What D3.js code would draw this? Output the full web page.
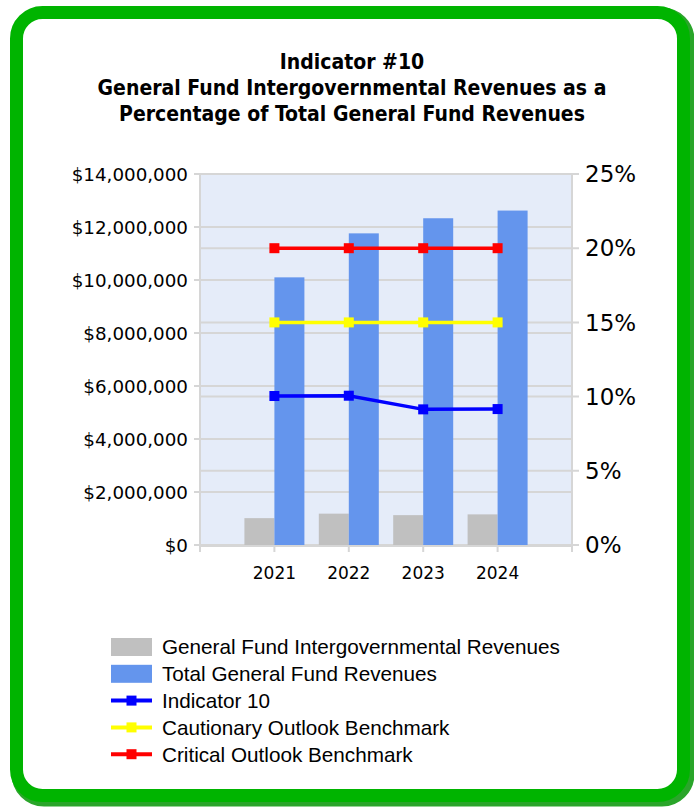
<!DOCTYPE html>
<html>
<head>
<meta charset="utf-8">
<script src="https://cdn.jsdelivr.net/npm/d3@7"></script>
<style>
  body { margin: 0; background: #fff; }
</style>
</head>
<body>
<div id="chart"></div>
<script>
// data
var years = ["2021", "2022", "2023", "2024"];
var intergovRevenues = [1014000, 1183000, 1127000, 1156000];
var totalRevenues = [10100000, 11760000, 12330000, 12620000];
var indicator10 = [10.04, 10.06, 9.14, 9.16];
var cautionary = [15, 15, 15, 15];
var critical = [20, 20, 20, 20];
var leftTicks = [0, 2000000, 4000000, 6000000, 8000000, 10000000, 12000000, 14000000];
var rightTicks = [0, 5, 10, 15, 20, 25];

var width = 694, height = 807;
var plot = { left: 200, right: 572, top: 174, bottom: 545 };

var svg = d3.select("#chart").append("svg")
  .attr("width", width)
  .attr("height", height);

// green rounded frame
svg.append("rect")
  .attr("x", 18).attr("y", 14).attr("width", 670).attr("height", 786)
  .attr("rx", 26).attr("ry", 26)
  .attr("fill", "none").attr("stroke", "#2aa52a").attr("stroke-width", 13);
svg.append("rect")
  .attr("x", 16.5).attr("y", 12.5).attr("width", 667).attr("height", 783)
  .attr("rx", 26).attr("ry", 26)
  .attr("fill", "#fff").attr("stroke", "#00b400").attr("stroke-width", 13);

// title
var title = svg.append("text")
  .attr("text-anchor", "middle")
  .attr("font-family", "DejaVu Sans Condensed, DejaVu Sans")
  .attr("font-weight", "bold")
  .attr("font-size", 21)
  .attr("fill", "#000");
["Indicator #10", "General Fund Intergovernmental Revenues as a", "Percentage of Total General Fund Revenues"]
  .forEach(function(t, i) {
    title.append("tspan").attr("x", 352).attr("y", 69 + i * 26).text(t);
  });

// scales
var x = d3.scalePoint().domain(years).range([plot.left, plot.right]).padding(1);
var yLeft = d3.scaleLinear().domain([0, 14000000]).range([plot.bottom, plot.top]);
var yRight = d3.scaleLinear().domain([0, 25]).range([plot.bottom, plot.top]);

// plot background
svg.append("rect")
  .attr("x", plot.left).attr("y", plot.top)
  .attr("width", plot.right - plot.left).attr("height", plot.bottom - plot.top)
  .attr("fill", "#e5ecf9");

// gridlines for both axes
svg.selectAll(".gridL").data(leftTicks).enter().append("line")
  .attr("x1", plot.left - 6).attr("x2", plot.right)
  .attr("y1", function(d) { return yLeft(d); })
  .attr("y2", function(d) { return yLeft(d); })
  .attr("stroke", "#d6d6d6").attr("stroke-width", 2);
svg.selectAll(".gridR").data(rightTicks).enter().append("line")
  .attr("x1", plot.left).attr("x2", plot.right + 7)
  .attr("y1", function(d) { return yRight(d); })
  .attr("y2", function(d) { return yRight(d); })
  .attr("stroke", "#d6d6d6").attr("stroke-width", 2);

// frame lines
svg.append("line").attr("x1", plot.left).attr("x2", plot.left)
  .attr("y1", plot.top).attr("y2", plot.bottom + 7)
  .attr("stroke", "#d6d6d6").attr("stroke-width", 2);
svg.append("line").attr("x1", plot.right).attr("x2", plot.right)
  .attr("y1", plot.top).attr("y2", plot.bottom + 7)
  .attr("stroke", "#d6d6d6").attr("stroke-width", 2);
svg.append("line").attr("x1", plot.left).attr("x2", plot.right)
  .attr("y1", plot.bottom + 1).attr("y2", plot.bottom + 1)
  .attr("stroke", "#d6d6d6").attr("stroke-width", 2);
svg.selectAll(".xtick").data(years).enter().append("line")
  .attr("x1", function(d) { return x(d); }).attr("x2", function(d) { return x(d); })
  .attr("y1", plot.bottom).attr("y2", plot.bottom + 7)
  .attr("stroke", "#d6d6d6").attr("stroke-width", 2);

// bars
var barW = 30;
svg.selectAll(".barG").data(intergovRevenues).enter().append("rect")
  .attr("x", function(d, i) { return x(years[i]) - barW; })
  .attr("y", function(d) { return yLeft(d); })
  .attr("width", barW)
  .attr("height", function(d) { return plot.bottom - yLeft(d); })
  .attr("fill", "#c0c0c0");
svg.selectAll(".barB").data(totalRevenues).enter().append("rect")
  .attr("x", function(d, i) { return x(years[i]); })
  .attr("y", function(d) { return yLeft(d); })
  .attr("width", barW)
  .attr("height", function(d) { return plot.bottom - yLeft(d); })
  .attr("fill", "#6495ed");

// lines
var lineSeries = [
  { values: critical, color: "#ff0000" },
  { values: cautionary, color: "#ffff00" },
  { values: indicator10, color: "#0000ff" }
];
var line = d3.line()
  .x(function(d, i) { return x(years[i]); })
  .y(function(d) { return yRight(d); });
lineSeries.forEach(function(s) {
  svg.append("path")
    .attr("d", line(s.values))
    .attr("fill", "none")
    .attr("stroke", s.color)
    .attr("stroke-width", 3.5);
  svg.selectAll(null).data(s.values).enter().append("rect")
    .attr("x", function(d, i) { return x(years[i]) - 5; })
    .attr("y", function(d) { return yRight(d) - 5; })
    .attr("width", 10).attr("height", 10)
    .attr("fill", s.color);
});

// axis labels
var money = d3.format("$,");
svg.selectAll(".lLab").data(leftTicks).enter().append("text")
  .attr("x", 188)
  .attr("y", function(d) { return yLeft(d); })
  .attr("dy", "0.36em")
  .attr("text-anchor", "end")
  .attr("font-family", "DejaVu Sans")
  .attr("font-size", 18.3)
  .attr("fill", "#000")
  .text(function(d) { return money(d); });
svg.selectAll(".rLab").data(rightTicks).enter().append("text")
  .attr("x", 585)
  .attr("y", function(d) { return yRight(d); })
  .attr("dy", "0.36em")
  .attr("font-family", "DejaVu Sans")
  .attr("font-size", 23)
  .attr("fill", "#000")
  .text(function(d) { return d + "%"; });
svg.selectAll(".xLab").data(years).enter().append("text")
  .attr("x", function(d) { return x(d); })
  .attr("y", 579)
  .attr("text-anchor", "middle")
  .attr("font-family", "DejaVu Sans")
  .attr("font-size", 17)
  .attr("fill", "#000")
  .text(function(d) { return d; });

// legend
var legendItems = [
  { label: "General Fund Intergovernmental Revenues", color: "#c0c0c0", type: "bar" },
  { label: "Total General Fund Revenues", color: "#6495ed", type: "bar" },
  { label: "Indicator 10", color: "#0000ff", type: "line" },
  { label: "Cautionary Outlook Benchmark", color: "#ffff00", type: "line" },
  { label: "Critical Outlook Benchmark", color: "#ff0000", type: "line" }
];
var legend = svg.selectAll(".legend").data(legendItems).enter().append("g")
  .attr("transform", function(d, i) { return "translate(111," + (647 + i * 26.8) + ")"; });
legend.filter(function(d) { return d.type === "bar"; }).append("rect")
  .attr("x", 0).attr("y", -9).attr("width", 41).attr("height", 18)
  .attr("fill", function(d) { return d.color; });
legend.filter(function(d) { return d.type === "line"; }).append("line")
  .attr("x1", 0).attr("x2", 41).attr("y1", 0).attr("y2", 0)
  .attr("stroke", function(d) { return d.color; }).attr("stroke-width", 4);
legend.filter(function(d) { return d.type === "line"; }).append("rect")
  .attr("x", 15.5).attr("y", -5).attr("width", 10).attr("height", 10)
  .attr("fill", function(d) { return d.color; });
legend.append("text")
  .attr("x", 51).attr("y", 0).attr("dy", "0.36em")
  .attr("font-family", "Liberation Sans, Arial")
  .attr("font-size", 20.7)
  .attr("fill", "#000")
  .text(function(d) { return d.label; });
</script>
</body>
</html>
